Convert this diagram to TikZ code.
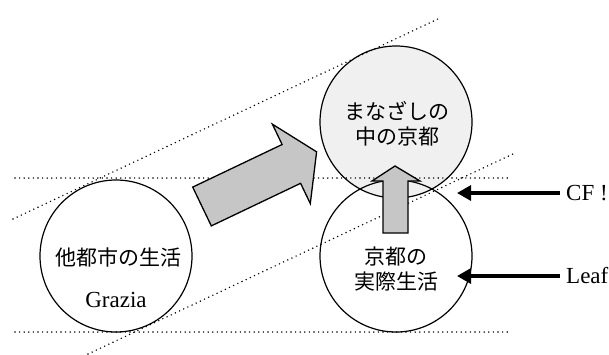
\documentclass[tikz,border=0pt]{standalone}
\usepackage{fontspec}
\setmainfont{Liberation Serif}
\newfontfamily\jpfont{Noto Sans CJK JP}
\usetikzlibrary{arrows.meta}
\begin{document}
\begin{tikzpicture}[x=1pt,y=-1pt,
  circ/.style={circle, draw, line width=1.2pt, minimum size=152pt, inner sep=0pt},
  dotline/.style={line width=1.6pt, dash pattern=on 0pt off 4.6pt, line cap=round},
  jptext/.style={font=\jpfont\fontsize{21}{25}\selectfont, align=center, inner sep=0pt},
  lattext/.style={font=\fontsize{23}{27}\selectfont, inner sep=0pt},
  fatarrow/.style={draw, line width=1.3pt, fill=gray!45, line join=miter},
  blackarrow/.style={line width=3.2pt, -{Triangle[length=14pt,width=15pt]}}]
\useasboundingbox (0,0) rectangle (609,354);
% circles
\node[circ, fill=gray!12] (gaze) at (396,122) {};
\node[circ] (real) at (396,256) {};
\node[circ] (other) at (116,256) {};
% dotted guide lines
\coordinate (h1a) at (15,178);  \coordinate (h1b) at (510,178);
\coordinate (h2a) at (15,332);  \coordinate (h2b) at (510,332);
\coordinate (d1a) at (13,219);  \coordinate (d1b) at (440,18);
\coordinate (d2a) at (88,354);  \coordinate (d2b) at (515,153);
\draw[dotline] (h1a) -- (h1b);
\draw[dotline] (h2a) -- (h2b);
\draw[dotline] (d1a) -- (d1b);
\draw[dotline] (d2a) -- (d2b);
% big arrow
\draw[fatarrow] (192.7,187.1) -- (282.1,144.5) -- (272.4,124.2) -- (316.6,151.8)
  -- (310.3,203.6) -- (300.6,183.3) -- (211.3,225.9) -- cycle;
% up arrow
\draw[fatarrow] (383,233) -- (383,181) -- (372,181) -- (395,166) -- (420,181)
  -- (408,181) -- (408,233) -- cycle;
% texts
\node[jptext] (gazetxt) at (397,124) {まなざしの\\中の京都};
\node[jptext] (realtxt) at (396,269) {京都の\\実際生活};
\node[jptext] (othertxt) at (118,257) {他都市の生活};
\node[lattext] (grazia) at (116,300) {Grazia};
% labels with arrows
\node[lattext, anchor=west, inner xsep=6pt] (cf) at (560,193) {CF !};
\node[lattext, anchor=west, inner xsep=6pt] (leaf) at (560,276) {Leaf};
\coordinate (cftip) at (457,193);
\coordinate (leaftip) at (457,276);
\draw[blackarrow] (cf.west) -- (cftip);
\draw[blackarrow] (leaf.west) -- (leaftip);
\end{tikzpicture}
\end{document}
